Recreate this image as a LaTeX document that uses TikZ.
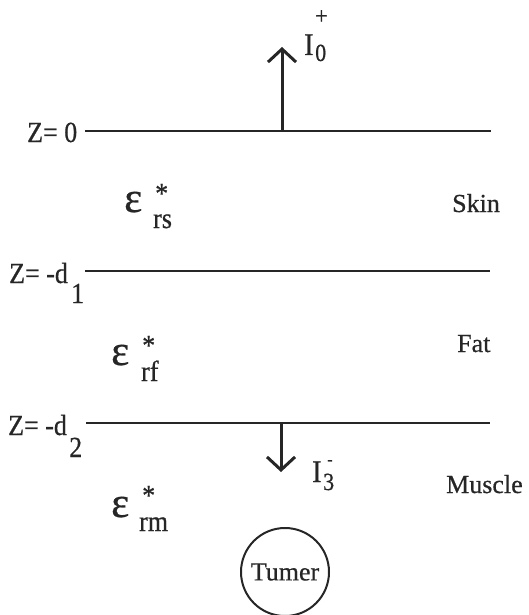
\documentclass[tikz,border=0pt]{standalone}
\usepackage{graphicx}
\usepackage{fontspec}
\setmainfont{Liberation Serif}[FakeBold=0.6]
\usetikzlibrary{arrows.meta}
\definecolor{ink}{HTML}{262626}
\newcommand\tallt[1]{\scalebox{1}[1.12]{#1}}
\begin{document}
\begin{tikzpicture}[x=1pt,y=-1pt,
  layer/.style={line width=2.4pt, draw=ink},
  flux/.style={line width=3pt, draw=ink, -{Straight Barb[length=13pt,width=28pt]}},
  lbl/.style={inner sep=0pt, anchor=base west, font=\fontsize{26}{30}\selectfont, text=ink},
  big/.style={inner sep=0pt, anchor=base west, font=\fontsize{28}{32}\selectfont, text=ink},
  small/.style={inner sep=0pt, anchor=base west, font=\fontsize{22}{26}\selectfont, text=ink},
  tiny/.style={inner sep=0pt, anchor=base west, font=\fontsize{16}{20}\selectfont, text=ink},
  eps/.style={inner sep=0pt, anchor=base west, font=\fontsize{43}{47}\selectfont, text=ink},
  tumor/.style={circle, draw=ink, line width=2pt, minimum size=88pt, inner sep=0pt,
                font=\fontsize{26}{30}\selectfont, text=ink}
]
\useasboundingbox (0,0) rectangle (529,615);

% interfaces
\coordinate (z0L) at (85,131);  \coordinate (z0R) at (491,131);
\coordinate (z1L) at (85,271);  \coordinate (z1R) at (490,271);
\coordinate (z2L) at (86,423);  \coordinate (z2R) at (490,423);
\draw[layer] (z0L) -- (z0R);
\draw[layer] (z1L) -- (z1R);
\draw[layer] (z2L) -- (z2R);

% interface labels
\node[lbl] (lz0) at (27,142) {\tallt{Z= 0}};
\node[lbl] (lz1) at (9,283) {\tallt{Z= -d}};
\node[lbl] (lz1s) at (71,303) {\tallt{1}};
\node[lbl] (lz2) at (8,435) {\tallt{Z= -d}};
\node[lbl] (lz2s) at (69,457) {\tallt{2}};

% fluxes
\coordinate (a0s) at (282,131); \coordinate (a0e) at (282,47);
\draw[flux] (a0s) -- (a0e);
\node[big] (i0) at (304,55) {\tallt{I}};
\node[small] (i0s) at (315,61) {\tallt{0}};
\node[small] (i0p) at (315,24) {\tallt{+}};

\coordinate (a3s) at (281,423); \coordinate (a3e) at (281,472);
\draw[flux] (a3s) -- (a3e);
\node[big] (i3) at (312,482) {\tallt{I}};
\node[small] (i3s) at (323,490) {\tallt{3}};
\node[tiny] (i3m) at (327,465) {\tallt{-}};

% permittivities
\node[eps] (ers) at (124,212) {ε};
\node[lbl] (ersx) at (155,203) {\tallt{*}};
\node[lbl] (erss) at (153,228) {\tallt{rs}};

\node[eps] (erf) at (111,365) {ε};
\node[lbl] (erfx) at (142,355) {\tallt{*}};
\node[lbl] (erfs) at (141,381) {\tallt{rf}};

\node[eps] (erm) at (111,517) {ε};
\node[lbl] (ermx) at (142,505) {\tallt{*}};
\node[lbl] (erms) at (139,531) {\tallt{rm}};

% tissue names
\node[lbl] (skin) at (452,212) {Skin};
\node[lbl] (fat) at (457,352) {Fat};
\node[lbl] (muscle) at (446,493) {Muscle};

% tumour
\node[tumor] (tum) at (285,572) {Tumer};
\end{tikzpicture}
\end{document}
